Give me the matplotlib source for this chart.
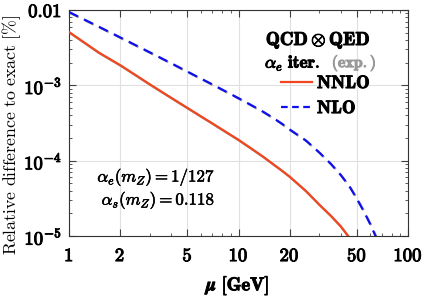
import numpy as np
import matplotlib
matplotlib.use("Agg")
import matplotlib.pyplot as plt
from matplotlib import ticker
from matplotlib.lines import Line2D
import matplotlib.patheffects as pe

plt.rcParams['mathtext.fontset'] = 'cm'
plt.rcParams['font.family'] = 'serif'
plt.rcParams['font.serif'] = ['cmr10', 'DejaVu Serif']
plt.rcParams['axes.unicode_minus'] = False

# data
mu_nnlo = [1, 1.25, 1.5, 2, 2.5, 3, 4, 5, 6, 7, 8, 10, 12, 14, 16, 18, 20, 25, 30, 35, 40, 44, 47]
nnlo = [5.1e-3, 3.61e-3, 2.72e-3, 1.86e-3, 1.345e-3, 1.03e-3, 6.85e-4, 5.01e-4, 3.88e-4,
        3.13e-4, 2.59e-4, 1.89e-4, 1.43e-4, 1.125e-4, 9.0e-5, 7.4e-5, 6.15e-5, 3.95e-5,
        2.6e-5, 1.86e-5, 1.35e-5, 1.02e-5, 8.0e-6]
mu_nlo = [1, 1.5, 2, 3, 4, 5, 6, 7, 8, 10, 12, 14, 16, 18, 20, 25, 30, 35, 40, 45, 50, 55, 60, 65, 70]
nlo = [9.4e-3, 6.0e-3, 4.34e-3, 2.74e-3, 1.97e-3, 1.52e-3, 1.23e-3, 1.03e-3, 8.8e-4,
       6.75e-4, 5.4e-4, 4.45e-4, 3.7e-4, 3.1e-4, 2.6e-4, 1.85e-4, 1.28e-4, 9.1e-5,
       6.5e-5, 4.6e-5, 3.1e-5, 2.1e-5, 1.42e-5, 9.5e-6, 6.3e-6]

xticks = [1, 2, 5, 10, 20, 50, 100]
xticklabels = ['1', '2', '5', '10', '20', '50', '100']
yticks = [1e-5, 1e-4, 1e-3, 1e-2]
yticklabels = [r'$\mathbf{10^{-5}}$', r'$\mathbf{10^{-4}}$', r'$\mathbf{10^{-3}}$', r'$\mathbf{0.01}$']

bold = [pe.withStroke(linewidth=0.7, foreground='black')]
bold_grey = [pe.withStroke(linewidth=0.7, foreground='0.6')]

fig = plt.figure(figsize=(4.24, 2.98), dpi=100)
ax = fig.add_axes([0.1627, 0.208, 0.7996, 0.7584])
ax.set_xscale('log')
ax.set_yscale('log')
ax.set_xlim(1, 100)
ax.set_ylim(1e-5, 1e-2)

shadow = [pe.SimpleLineShadow(offset=(0.6, -0.6), shadow_color='0.4', alpha=0.6), pe.Normal()]
red, blue = '#f2461e', '#1010ee'
ax.plot(mu_nnlo, nnlo, color=red, lw=1.6, path_effects=shadow, zorder=3)
ax.plot(mu_nlo, nlo, color=blue, lw=1.6, ls=(0, (4.5, 3)), path_effects=shadow, zorder=3)

ax.xaxis.set_major_locator(ticker.FixedLocator(xticks))
ax.xaxis.set_major_formatter(ticker.FixedFormatter([r'$\mathbf{%s}$' % s for s in xticklabels]))
ax.xaxis.set_minor_locator(ticker.FixedLocator([3, 4, 6, 7, 8, 9, 30, 40, 60, 70, 80, 90]))
ax.xaxis.set_minor_formatter(ticker.NullFormatter())
ax.yaxis.set_major_locator(ticker.FixedLocator(yticks))
ax.yaxis.set_major_formatter(ticker.FixedFormatter(yticklabels))
ax.yaxis.set_minor_locator(ticker.LogLocator(base=10, subs=np.arange(2, 10), numticks=20))
ax.yaxis.set_minor_formatter(ticker.NullFormatter())

ax.tick_params(which='both', direction='in', top=True, right=True, colors='0.25', labelcolor='black')
ax.tick_params(which='major', length=5, width=0.8, labelsize=13.5)
ax.tick_params(axis='x', which='major', pad=8)
ax.tick_params(axis='y', which='major', pad=5)
ax.tick_params(which='minor', length=2.5, width=0.6)
ax.grid(True, which='major', color='0.88', lw=0.8)
for s in ax.spines.values():
    s.set_color('0.2')
    s.set_linewidth(0.8)
for lab in ax.get_xticklabels() + ax.get_yticklabels():
    lab.set_path_effects(bold)

ax.set_xlabel(r'$\boldsymbol{\mu}\ \mathbf{[GeV]}$', fontsize=13.5, labelpad=6, path_effects=bold)
ax.set_ylabel(r'$\mathrm{Relative\ difference\ to\ exact\ [\%]}$', fontsize=12.8)
ax.yaxis.set_label_coords(-0.135, 0.445)

handles = [Line2D([], [], color=red, lw=1.6), Line2D([], [], color=blue, lw=1.6, ls=(0, (3, 2)))]
leg = ax.legend(handles, [r'$\mathbf{NNLO}$', r'$\mathbf{NLO}$'], loc='upper left',
                bbox_to_anchor=(0.625, 0.712), frameon=False, fontsize=13,
                handlelength=1.75, handletextpad=0.25, labelspacing=0.5, borderaxespad=0, borderpad=0)
for t in leg.get_texts():
    t.set_path_effects(bold)
ax.text(0.735, 0.867, r'$\mathbf{QCD}\otimes\mathbf{QED}$', transform=ax.transAxes,
        ha='center', va='center', fontsize=13.5, path_effects=bold)
ax.text(0.578, 0.765, r'$\alpha_e\ \mathbf{iter.}$', transform=ax.transAxes,
        ha='left', va='center', fontsize=12.5, path_effects=bold)
ax.text(0.775, 0.765, r'$\mathbf{(exp.)}$', transform=ax.transAxes, color='0.6',
        ha='left', va='center', fontsize=11.5, path_effects=bold_grey)

ax.text(0.431, 0.261, r'$\alpha_e(m_Z) = 1/127$', transform=ax.transAxes, ha='right', va='center',
        fontsize=12.2, path_effects=[pe.withStroke(linewidth=0.4, foreground='black')])
ax.text(0.431, 0.159, r'$\alpha_s(m_Z) = 0.118$', transform=ax.transAxes, ha='right', va='center',
        fontsize=12.2, path_effects=[pe.withStroke(linewidth=0.4, foreground='black')])

fig.savefig('out.png', dpi=100)
